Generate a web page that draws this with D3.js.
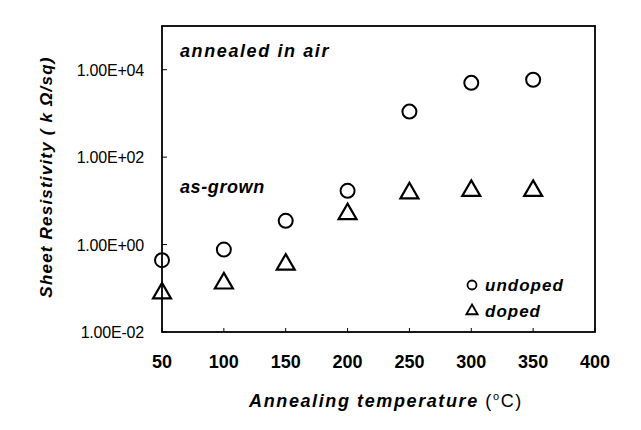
<!DOCTYPE html>
<html>
<head>
<meta charset="utf-8">
<script src="https://cdn.jsdelivr.net/npm/d3@7"></script>
<style>
  body { margin: 0; background: #fff; }
  text { font-family: "Liberation Sans", Arial, sans-serif; fill: #000; }
</style>
</head>
<body>
<svg width="641" height="430"></svg>
<script>
const temps = [50, 100, 150, 200, 250, 300, 350];
const undoped = [0.44, 0.77, 3.5, 17, 1100, 5000, 5900];
const doped = [0.077, 0.13, 0.35, 5, 15, 17, 17];
const xTicks = [50, 100, 150, 200, 250, 300, 350, 400];
const yTicks = [1e-2, 1, 1e2, 1e4];
const yTickLabels = ['1.00E-02', '1.00E+00', '1.00E+02', '1.00E+04'];

const svg = d3.select('svg');
const plotL = 162, plotR = 595, plotT = 26, plotB = 332;

const x = d3.scaleLinear().domain([50, 400]).range([plotL, plotR]);
const y = d3.scaleLog().domain([1e-2, 1e5]).range([plotB, plotT]);

// frame
svg.append('rect')
  .attr('x', plotL).attr('y', plotT)
  .attr('width', plotR - plotL).attr('height', plotB - plotT)
  .attr('fill', 'none').attr('stroke', '#000').attr('stroke-width', 1.8);

// y axis ticks + labels
svg.append('g')
  .selectAll('line')
  .data(yTicks)
  .join('line')
  .attr('x1', plotL).attr('x2', plotL + 5)
  .attr('y1', (d) => y(d)).attr('y2', (d) => y(d))
  .attr('stroke', '#000');

svg.append('g')
  .selectAll('text')
  .data(yTicks)
  .join('text')
  .attr('x', 144)
  .attr('y', (d) => y(d) + 6)
  .attr('text-anchor', 'end')
  .attr('font-size', 16)
  .attr('letter-spacing', -0.2)
  .text((d, i) => yTickLabels[i]);

// x axis ticks + labels
svg.append('g')
  .selectAll('line')
  .data(xTicks)
  .join('line')
  .attr('x1', (d) => x(d)).attr('x2', (d) => x(d))
  .attr('y1', plotB).attr('y2', plotB - 4)
  .attr('stroke', '#000');

svg.append('g')
  .selectAll('text')
  .data(xTicks)
  .join('text')
  .attr('x', (d) => x(d))
  .attr('y', 368)
  .attr('text-anchor', 'middle')
  .attr('font-size', 18)
  .attr('font-weight', 'bold')
  .text((d) => d);

// undoped circles
svg.append('g')
  .selectAll('circle')
  .data(temps)
  .join('circle')
  .attr('cx', (d) => x(d))
  .attr('cy', (d, i) => y(undoped[i]))
  .attr('r', 7)
  .attr('fill', 'none')
  .attr('stroke', '#000')
  .attr('stroke-width', 2);

// doped triangles
const tri = d3.symbol().type(d3.symbolTriangle).size(140);
svg.append('g')
  .selectAll('path')
  .data(temps)
  .join('path')
  .attr('d', tri)
  .attr('transform', (d, i) => `translate(${x(d)},${y(doped[i])})`)
  .attr('fill', 'none')
  .attr('stroke', '#000')
  .attr('stroke-width', 2.2);

// annotations
const note = (tx, ty, s, size, ls) => svg.append('text')
  .attr('x', tx).attr('y', ty)
  .attr('font-size', size)
  .attr('font-style', 'italic')
  .attr('font-weight', 'bold')
  .attr('letter-spacing', ls)
  .text(s);

note(180, 57, 'annealed in air', 18, 1.6);
note(180, 193, 'as-grown', 18, 0.6);
note(485, 291, 'undoped', 17, 1);
note(485, 317, 'doped', 17, 1);

svg.append('circle')
  .attr('cx', 472).attr('cy', 285).attr('r', 4.5)
  .attr('fill', 'none').attr('stroke', '#000').attr('stroke-width', 1.8);
svg.append('path')
  .attr('d', d3.symbol().type(d3.symbolTriangle).size(55))
  .attr('transform', 'translate(472,311)')
  .attr('fill', 'none').attr('stroke', '#000').attr('stroke-width', 1.8);

// axis titles
const xt = svg.append('text')
  .attr('x', 386).attr('y', 407)
  .attr('text-anchor', 'middle')
  .attr('font-size', 18)
  .attr('letter-spacing', 1.6);
xt.append('tspan').attr('font-style', 'italic').attr('font-weight', 'bold').text('Annealing temperature ');
xt.append('tspan').text('(');
xt.append('tspan').attr('font-size', 11).attr('dy', -7).text('o');
xt.append('tspan').attr('dy', 7).text('C)');

svg.append('text')
  .attr('transform', 'translate(52,177) rotate(-90)')
  .attr('text-anchor', 'middle')
  .attr('font-size', 17)
  .attr('font-style', 'italic')
  .attr('font-weight', 'bold')
  .attr('letter-spacing', 1.2)
  .text('Sheet Resistivity ( k Ω/sq)');
</script>
</body>
</html>
